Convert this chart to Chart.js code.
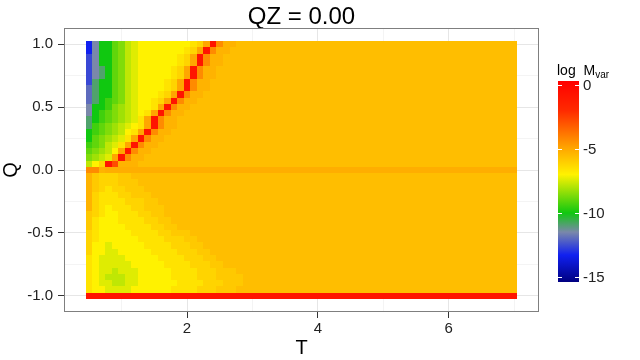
<!DOCTYPE html>
<html>
<head>
<meta charset="utf-8">
<title>QZ = 0.00</title>
<script src="https://cdn.jsdelivr.net/npm/chart.js"></script>
<style>
  body { margin: 0; background: #fff; }
  #wrap { position: relative; width: 640px; height: 360px; font-family: "Liberation Sans", Arial, sans-serif; }
  #chart { position: absolute; left: 0; top: 0; }
  #legend-title { position: absolute; left: 557px; top: 63px; font-size: 14px; line-height: 14px; color: #000; white-space: nowrap; }
  #legend-title sub { font-size: 10px; line-height: 0; vertical-align: -3px; }
  #legend-bar { position: absolute; left: 558px; top: 81px; width: 21px; height: 201px; }
  .legend-label { position: absolute; left: 583px; font-size: 15px; line-height: 15px; color: #222; }
  .legend-tick { position: absolute; width: 4px; height: 1px; background: #fff; }
</style>
</head>
<body>
<div id="wrap">
  <canvas id="chart" width="640" height="360"></canvas>
  <div id="legend-title">log&nbsp;&nbsp;M<sub>var</sub></div>
  <div id="legend-bar"></div>
</div>
<script>
// temperature grid (columns) and Q grid (rows, top to bottom)
const T_VALUES = [
  0.5, 0.6, 0.7, 0.8, 0.9, 1.0, 1.1, 1.2, 1.3, 1.4,
  1.5, 1.6, 1.7, 1.8, 1.9, 2.0, 2.1, 2.2, 2.3, 2.4,
  2.5, 2.6, 2.7, 2.8, 2.9, 3.0, 3.1, 3.2, 3.3, 3.4,
  3.5, 3.6, 3.7, 3.8, 3.9, 4.0, 4.1, 4.2, 4.3, 4.4,
  4.5, 4.6, 4.7, 4.8, 4.9, 5.0, 5.1, 5.2, 5.3, 5.4,
  5.5, 5.6, 5.7, 5.8, 5.9, 6.0, 6.1, 6.2, 6.3, 6.4,
  6.5, 6.6, 6.7, 6.8, 6.9, 7.0,
];
const Q_VALUES = [
  1.0, 0.95, 0.9, 0.85, 0.8, 0.75, 0.7, 0.65, 0.6, 0.55,
  0.5, 0.45, 0.4, 0.35, 0.3, 0.25, 0.2, 0.15, 0.1, 0.05,
  0.0, -0.05, -0.1, -0.15, -0.2, -0.25, -0.3, -0.35, -0.4, -0.45,
  -0.5, -0.55, -0.6, -0.65, -0.7, -0.75, -0.8, -0.85, -0.9, -0.95,
  -1.0,
];

// log Mvar per cell, one letter per T column (groups of 11 columns)
const CODE_LEVELS = {
  l: -13.3, k: -12.6, j: -12.0, i: -11.5, h: -10.9, g: -10.0,
  s: -9.4, t: -9.0, u: -8.6, v: -8.2, w: -7.8, x: -7.4, y: -7.0,
  e: -6.6, d: -6.2, c: -5.9, b: -5.6, p: -5.3, z: -5.15, q: -4.95,
  o: -4.3, r: -2.8, R: -0.8,
};
const CELL_ROWS = [
  "liggtuwxyyy yyyyyedqRop pbbbbbbbbbb bbbbbbbbbbb bbbbbbbbbbb bbbbbbbbbbb", //  1.00
  "liggtuwxyyy yyyyedqRopp bbbbbbbbbbb bbbbbbbbbbb bbbbbbbbbbb bbbbbbbbbbb", //  0.95
  "kiggtuwxyyy yyyedqRoppb bbbbbbbbbbb bbbbbbbbbbb bbbbbbbbbbb bbbbbbbbbbb", //  0.90
  "kiggtuwxyyy yyyedqRoppb bbbbbbbbbbb bbbbbbbbbbb bbbbbbbbbbb bbbbbbbbbbb", //  0.85
  "kihgtuwxyyy yyedqRoppbb bbbbbbbbbbb bbbbbbbbbbb bbbbbbbbbbb bbbbbbbbbbb", //  0.80
  "kihgtuwxyyy yyedqRoppbb bbbbbbbbbbb bbbbbbbbbbb bbbbbbbbbbb bbbbbbbbbbb", //  0.75
  "khggtuwxyyy yedqRoppbbb bbbbbbbbbbb bbbbbbbbbbb bbbbbbbbbbb bbbbbbbbbbb", //  0.70
  "jhggtuwxyyy yedqRoppbbb bbbbbbbbbbb bbbbbbbbbbb bbbbbbbbbbb bbbbbbbbbbb", //  0.65
  "jhggtuwxyyy edqRoppbbbb bbbbbbbbbbb bbbbbbbbbbb bbbbbbbbbbb bbbbbbbbbbb", //  0.60
  "jhgstuwxyye dqRoppbbbbb bbbbbbbbbbb bbbbbbbbbbb bbbbbbbbbbb bbbbbbbbbbb", //  0.55
  "iggsuvwxyye qRoppbbbbbb bbbbbbbbbbb bbbbbbbbbbb bbbbbbbbbbb bbbbbbbbbbb", //  0.50
  "igstuvwxyeq Roppbbbbbbb bbbbbbbbbbb bbbbbbbbbbb bbbbbbbbbbb bbbbbbbbbbb", //  0.45
  "hgstuvwxeqR oppbbbbbbbb bbbbbbbbbbb bbbbbbbbbbb bbbbbbbbbbb bbbbbbbbbbb", //  0.40
  "hstuvwxyeqR oppbbbbbbbb bbbbbbbbbbb bbbbbbbbbbb bbbbbbbbbbb bbbbbbbbbbb", //  0.35
  "gstuvwyeqRo ppbbbbbbbbb bbbbbbbbbbb bbbbbbbbbbb bbbbbbbbbbb bbbbbbbbbbb", //  0.30
  "gtuvwxeqRop pbbbbbbbbbb bbbbbbbbbbb bbbbbbbbbbb bbbbbbbbbbb bbbbbbbbbbb", //  0.25
  "stuwxeqRopp bbbbbbbbbbb bbbbbbbbbbb bbbbbbbbbbb bbbbbbbbbbb bbbbbbbbbbb", //  0.20
  "tuvwyqRoppb bbbbbbbbbbb bbbbbbbbbbb bbbbbbbbbbb bbbbbbbbbbb bbbbbbbbbbb", //  0.15
  "uvwxqRoppbb bbbbbbbbbbb bbbbbbbbbbb bbbbbbbbbbb bbbbbbbbbbb bbbbbbbbbbb", //  0.10
  "wydRrpppbbb bbbbbbbbbbb bbbbbbbbbbb bbbbbbbbbbb bbbbbbbbbbb bbbbbbbbbbb", //  0.05
  "oopzzzzzzzz zzzzzzzzzzz zzzzzzzzzzz zzzzzzzzzzz zzzzzzzzzzz zzzzzzzzzzz", //  0.00
  "pcdddccbbbb bbbbbbbbbbb bbbbbbbbbbb bbbbbbbbbbb bbbbbbbbbbb bbbbbbbbbbb", // -0.05
  "pcdddcccbbb bbbbbbbbbbb bbbbbbbbbbb bbbbbbbbbbb bbbbbbbbbbb bbbbbbbbbbb", // -0.10
  "pcdeddcccbb bbbbbbbbbbb bbbbbbbbbbb bbbbbbbbbbb bbbbbbbbbbb bbbbbbbbbbb", // -0.15
  "pdeeeddcccb bbbbbbbbbbb bbbbbbbbbbb bbbbbbbbbbb bbbbbbbbbbb bbbbbbbbbbb", // -0.20
  "pdeeeedddcc bbbbbbbbbbb bbbbbbbbbbb bbbbbbbbbbb bbbbbbbbbbb bbbbbbbbbbb", // -0.25
  "pdeyeeeddcc cbbbbbbbbbb bbbbbbbbbbb bbbbbbbbbbb bbbbbbbbbbb bbbbbbbbbbb", // -0.30
  "cdeyyeeeddc cbbbbbbbbbb bbbbbbbbbbb bbbbbbbbbbb bbbbbbbbbbb bbbbbbbbbbb", // -0.35
  "ceyyyeeeedd ccbbbbbbbbb bbbbbbbbbbb bbbbbbbbbbb bbbbbbbbbbb bbbbbbbbbbb", // -0.40
  "ceyyyyeeeed dccbbbbbbbb bbbbbbbbbbb bbbbbbbbbbb bbbbbbbbbbb bbbbbbbbbbb", // -0.45
  "deyyyyyeeee ddcccbbbbbb bbbbbbbbbbb bbbbbbbbbbb bbbbbbbbbbb bbbbbbbbbbb", // -0.50
  "deyyyyyyeee edddccbbbbb bbbbbbbbbbb bbbbbbbbbbb bbbbbbbbbbb bbbbbbbbbbb", // -0.55
  "dyyxyyyyyee eedddccbbbb bbbbbbbbbbb bbbbbbbbbbb bbbbbbbbbbb bbbbbbbbbbb", // -0.60
  "dyyxxyyyyye eeedddccbbb bbbbbbbbbbb bbbbbbbbbbb bbbbbbbbbbb bbbbbbbbbbb", // -0.65
  "eyxxxxyyyyy eeeedddccbb bbbbbbbbbbb bbbbbbbbbbb bbbbbbbbbbb bbbbbbbbbbb", // -0.70
  "eyxxxxxyyyy yeeeedddccb bbbbbbbbbbb bbbbbbbbbbb bbbbbbbbbbb bbbbbbbbbbb", // -0.75
  "eyxxwxxxyyy yyeeeedddcc cbbbbbbbbbb bbbbbbbbbbb bbbbbbbbbbb bbbbbbbbbbb", // -0.80
  "eyxwwwxxyyy yyeeeedddcc ccbbbbbbbbb bbbbbbbbbbb bbbbbbbbbbb bbbbbbbbbbb", // -0.85
  "eyxxwwxxyyy yyyeeeedddc ccbbbbbbbbb bbbbbbbbbbb bbbbbbbbbbb bbbbbbbbbbb", // -0.90
  "eyyxxxxyyyy yyeeeedddcc cbbbbbbbbbb bbbbbbbbbbb bbbbbbbbbbb bbbbbbbbbbb", // -0.95
  "RRRRRRRRRRR RRRRRRRRRRR RRRRRRRRRRR RRRRRRRRRRR RRRRRRRRRRR RRRRRRRRRRR", // -1.00
];

// axis ticks and legend ticks
const X_MAJOR = [2, 4, 6];
const X_MINOR = [1, 3, 5, 7];
const Y_MAJOR = [-1, -0.5, 0, 0.5, 1];
const Y_MINOR = [-0.75, -0.25, 0.25, 0.75];
const LEGEND_TICKS = [0, -5, -10, -15];

// colour scale (value, rgb) and its limits
const COLOR_STOPS = [
  [-15.4, [0, 0, 128]],
  [-13.3, [16, 32, 240]],
  [-11.5, [122, 136, 170]],
  [-10.0, [16, 200, 16]],
  [-7.0, [255, 242, 0]],
  [-5.0, [255, 168, 0]],
  [-2.0, [255, 42, 0]],
  [0.3, [255, 0, 0]],
];
const LEVEL_MIN = -15.4;
const LEVEL_MAX = 0.3;
const CELL_W = 0.1;
const CELL_H = 0.05;
const FONT = "'Liberation Sans', Arial, sans-serif";

function levelColor(v) {
  for (let k = 1; k < COLOR_STOPS.length; k++) {
    const [v0, c0] = COLOR_STOPS[k - 1];
    const [v1, c1] = COLOR_STOPS[k];
    if (v <= v1 || k === COLOR_STOPS.length - 1) {
      const f = Math.min(1, Math.max(0, (v - v0) / (v1 - v0)));
      const c = c0.map((a, n) => Math.round(a + (c1[n] - a) * f));
      return `rgb(${c.join(",")})`;
    }
  }
}

function buildCells() {
  const cells = [];
  CELL_ROWS.forEach((row, j) => {
    const codes = row.replace(/\s+/g, "");
    T_VALUES.forEach((t, i) => {
      cells.push({ x: t, y: Q_VALUES[j], v: CODE_LEVELS[codes[i]] });
    });
  });
  return cells;
}

const heatmapPlugin = {
  id: "heatmap",
  beforeDatasetsDraw(chart) {
    const { ctx, scales } = chart;
    const xs = scales.x;
    const ys = scales.y;
    ctx.save();
    chart.data.datasets[0].data.forEach((cell) => {
      const left = Math.round(xs.getPixelForValue(cell.x - CELL_W / 2));
      const right = Math.round(xs.getPixelForValue(cell.x + CELL_W / 2));
      const top = Math.round(ys.getPixelForValue(cell.y + CELL_H / 2));
      const bottom = Math.round(ys.getPixelForValue(cell.y - CELL_H / 2));
      ctx.fillStyle = levelColor(cell.v);
      ctx.fillRect(left, top, right - left, bottom - top);
    });
    ctx.restore();
  },
};

const panelBorderPlugin = {
  id: "panelBorder",
  afterDraw(chart) {
    const { ctx, chartArea: a } = chart;
    ctx.save();
    ctx.strokeStyle = "#7f7f7f";
    ctx.lineWidth = 1;
    ctx.strokeRect(a.left + 0.5, a.top + 0.5, a.right - a.left - 1, a.bottom - a.top - 1);
    ctx.restore();
  },
};

function gridColor(ctx, major) {
  return major.includes(ctx.tick.value) ? "#e6e6e6" : "#f4f4f4";
}
function tickColor(ctx, major) {
  return major.includes(ctx.tick.value) ? "#333333" : "rgba(0,0,0,0)";
}

function initChart() {
  Chart.defaults.font.family = FONT;
  const ctx = document.getElementById("chart").getContext("2d");
  new Chart(ctx, {
    type: "scatter",
    data: {
      datasets: [{ data: buildCells(), pointRadius: 0, pointHoverRadius: 0 }],
    },
    options: {
      responsive: false,
      animation: false,
      events: [],
      layout: { padding: { top: 0, right: 101, bottom: 0, left: 0 } },
      plugins: {
        legend: { display: false },
        tooltip: { enabled: false },
        title: {
          display: true,
          text: "QZ = 0.00",
          fullSize: false,
          color: "#000",
          font: { size: 24, weight: "normal", lineHeight: 0.875 },
          padding: { top: 7, bottom: 0 },
        },
      },
      scales: {
        x: {
          type: "linear",
          min: 0.12,
          max: 7.38,
          afterBuildTicks: (s) => {
            s.ticks = [...X_MINOR, ...X_MAJOR].sort((a, b) => a - b).map((v) => ({ value: v }));
          },
          afterFit: (s) => { s.height = 48; },
          ticks: {
            autoSkip: false,
            maxRotation: 0,
            padding: 2,
            color: "#222",
            font: { size: 15 },
            callback: (v) => (X_MAJOR.includes(v) ? String(v) : ""),
          },
          grid: {
            color: (c) => gridColor(c, X_MAJOR),
            tickColor: (c) => tickColor(c, X_MAJOR),
            tickLength: 6,
            lineWidth: 1,
          },
          border: { display: false },
          title: {
            display: true,
            text: "T",
            color: "#000",
            font: { size: 20, lineHeight: 1.2 },
            padding: { top: 0, bottom: 0 },
          },
        },
        y: {
          type: "linear",
          min: -1.1275,
          max: 1.1275,
          afterBuildTicks: (s) => {
            s.ticks = [...Y_MINOR, ...Y_MAJOR].sort((a, b) => a - b).map((v) => ({ value: v }));
          },
          afterFit: (s) => { s.width = 64; },
          ticks: {
            autoSkip: false,
            padding: 5,
            color: "#222",
            font: { size: 15 },
            callback: (v) => (Y_MAJOR.includes(v) ? v.toFixed(1) : ""),
          },
          grid: {
            color: (c) => gridColor(c, Y_MAJOR),
            tickColor: (c) => tickColor(c, Y_MAJOR),
            tickLength: 6,
            lineWidth: 1,
          },
          border: { display: false },
          title: {
            display: true,
            text: "Q",
            color: "#000",
            font: { size: 20, lineHeight: 1.1 },
            padding: { top: 0, bottom: 0 },
          },
        },
      },
    },
    plugins: [heatmapPlugin, panelBorderPlugin],
  });
}

function buildLegend() {
  const wrap = document.getElementById("wrap");
  const bar = document.getElementById("legend-bar");
  const barTop = 81;
  const barHeight = 201;
  const frac = (v) => (LEVEL_MAX - v) / (LEVEL_MAX - LEVEL_MIN);
  const stops = COLOR_STOPS.slice()
    .reverse()
    .map(([v, c]) => `rgb(${c.join(",")}) ${(frac(v) * 100).toFixed(2)}%`);
  bar.style.background = `linear-gradient(to bottom, ${stops.join(", ")})`;

  LEGEND_TICKS.forEach((v) => {
    const yPos = barTop + frac(v) * barHeight;
    [558, 575].forEach((left) => {
      const tick = document.createElement("div");
      tick.className = "legend-tick";
      tick.style.left = left + "px";
      tick.style.top = Math.round(yPos) + "px";
      wrap.appendChild(tick);
    });
    const label = document.createElement("div");
    label.className = "legend-label";
    label.textContent = String(v);
    label.style.top = (yPos - 7.5).toFixed(1) + "px";
    wrap.appendChild(label);
  });
}

document.addEventListener("DOMContentLoaded", () => {
  initChart();
  buildLegend();
});
</script>
</body>
</html>
